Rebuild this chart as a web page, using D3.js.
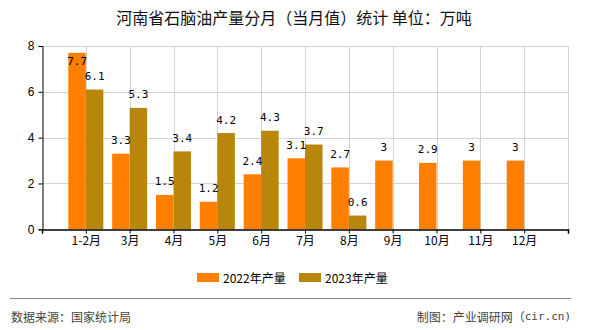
<!DOCTYPE html>
<html>
<head>
<meta charset="utf-8">
<script src="https://cdn.jsdelivr.net/npm/d3@7"></script>
<style>
  html, body { margin: 0; padding: 0; background: #fff; }
  svg { display: block; }
</style>
</head>
<body>
<svg id="chart" width="590" height="330"></svg>
<script>
// Monthly naphtha output, Henan province (10k tonnes)
const months = ["1-2月", "3月", "4月", "5月", "6月", "7月", "8月", "9月", "10月", "11月", "12月"];
const output2022 = [7.7, 3.3, 1.5, 1.2, 2.4, 3.1, 2.7, 3, 2.9, 3, 3];
const output2023 = [6.1, 5.3, 3.4, 4.2, 4.3, 3.7, 0.6, null, null, null, null];
const seriesNames = ["2022年产量", "2023年产量"];
const seriesColors = ["#FF8000", "#B8860B"];
const yTicks = [0, 2, 4, 6, 8];

const cjk = "'Noto Sans CJK SC', 'Noto Sans', sans-serif";
const mono = "'DejaVu Sans Mono', 'Liberation Mono', monospace";

const svg = d3.select("#chart");
const plot = { left: 42, right: 568, top: 46, bottom: 229.3 };

// Category slots: months sit on positions 1..11 of a 0..12 axis
const x = d3.scaleLinear().domain([0, 12]).range([plot.left, plot.right]);
const y = d3.scaleLinear().domain([0, 8]).range([plot.bottom, plot.top]);
const barW = 17.5;

// Title
svg.append("text")
  .attr("x", 294).attr("y", 17)
  .attr("text-anchor", "middle").attr("dominant-baseline", "central")
  .style("font-family", cjk).style("font-size", "16px").attr("fill", "#111")
  .text("河南省石脑油产量分月（当月值）统计 单位：万吨");

// Grid lines
const grid = svg.append("g").attr("stroke", "#d3d3d3").attr("stroke-width", 1);
grid.selectAll("line.h").data(yTicks.filter(d => d > 0)).join("line")
  .attr("x1", plot.left).attr("x2", plot.right)
  .attr("y1", d => Math.round(y(d)) + 0.5).attr("y2", d => Math.round(y(d)) + 0.5);
grid.selectAll("line.v").data(d3.range(1, 13)).join("line")
  .attr("y1", plot.top).attr("y2", plot.bottom)
  .attr("x1", d => Math.round(x(d)) + 0.5).attr("x2", d => Math.round(x(d)) + 0.5);

// Bars
const series = [output2022, output2023];
series.forEach((vals, s) => {
  svg.append("g").selectAll("rect").data(vals.map((v, i) => ({ v, i })).filter(d => d.v != null))
    .join("rect")
    .attr("x", d => x(d.i + 1) + (s === 0 ? -barW : 0))
    .attr("width", barW)
    .attr("y", d => y(d.v))
    .attr("height", d => y(0) - y(d.v))
    .attr("fill", seriesColors[s]);
});

// Value labels
series.forEach((vals, s) => {
  svg.append("g").selectAll("text").data(vals.map((v, i) => ({ v, i })).filter(d => d.v != null))
    .join("text")
    .attr("x", d => x(d.i + 1) + (s === 0 ? -barW / 2 : barW / 2))
    .attr("y", d => {
      const above = y(d.v) - 13;
      return above < plot.top ? y(d.v) + 9 : above;
    })
    .attr("text-anchor", "middle").attr("dominant-baseline", "central")
    .style("font-family", mono).style("font-size", "11px").attr("fill", "#000")
    .text(d => d.v);
});

// Y axis
const yAxis = svg.append("g").attr("transform", `translate(${plot.left + 0.5},0)`)
  .call(d3.axisLeft(y).tickValues(yTicks).tickSize(4).tickPadding(4).tickFormat(d3.format("d")));
yAxis.select(".domain").attr("stroke", "#000");
yAxis.selectAll(".tick line").attr("stroke", "#000");
yAxis.selectAll("text").style("font-family", "'Liberation Sans', Arial, sans-serif").style("font-size", "12px").attr("fill", "#000");

// X axis
const xAxis = svg.append("g").attr("transform", `translate(0,${Math.round(plot.bottom) + 0.5})`)
  .call(d3.axisBottom(x).tickValues(d3.range(0, 13)).tickSize(4).tickPadding(3)
    .tickFormat(d => months[d - 1] || ""));
xAxis.select(".domain").attr("stroke", "#000").attr("stroke-width", 1.5);
xAxis.selectAll(".tick line").attr("stroke", "#000");
xAxis.selectAll("text").style("font-family", cjk).style("font-size", "12px").attr("fill", "#000");

// Legend
const legendItems = [{ x: 197 }, { x: 299 }];
legendItems.forEach((it, i) => {
  svg.append("rect").attr("x", it.x).attr("y", 273).attr("width", 22).attr("height", 9)
    .attr("fill", seriesColors[i]);
  svg.append("text").attr("x", it.x + 26).attr("y", 277.5)
    .attr("dominant-baseline", "central")
    .style("font-family", cjk).style("font-size", "12px").attr("fill", "#000")
    .text(seriesNames[i]);
});

// Footer
svg.append("line").attr("x1", 10).attr("x2", 571).attr("y1", 298.5).attr("y2", 298.5)
  .attr("stroke", "#888").attr("stroke-width", 1);
svg.append("text").attr("x", 11).attr("y", 316).attr("dominant-baseline", "central")
  .style("font-family", cjk).style("font-size", "12px").attr("fill", "#444")
  .text("数据来源：国家统计局");
const credit = svg.append("text").attr("x", 571).attr("y", 316).attr("dominant-baseline", "central")
  .attr("text-anchor", "end").style("font-family", cjk).style("font-size", "12px").attr("fill", "#444");
credit.append("tspan").text("制图：产业调研网（");
credit.append("tspan").style("font-family", mono).style("font-size", "11px").text("cir.cn)");
</script>
</body>
</html>
